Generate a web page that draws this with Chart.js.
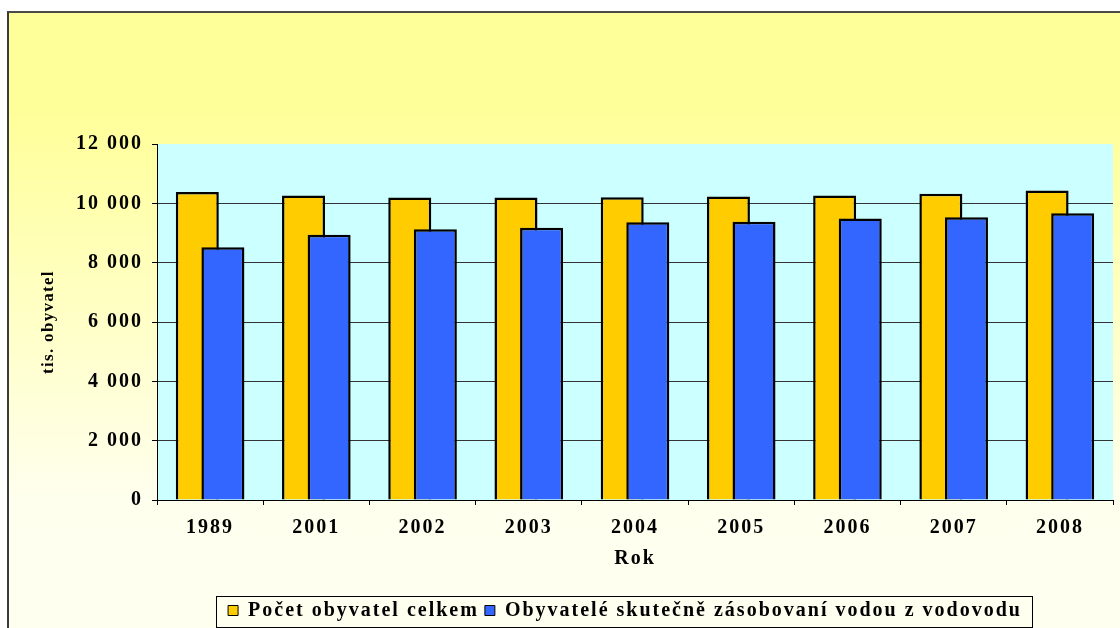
<!DOCTYPE html>
<html>
<head>
<meta charset="utf-8">
<title>Obyvatelé zásobovaní vodou z vodovodu</title>
<script src="https://cdn.jsdelivr.net/npm/chart.js@4.4.0/dist/chart.umd.min.js"></script>
<style>
  html, body { margin: 0; padding: 0; width: 1120px; height: 628px; overflow: hidden; background: #ffffff; }
  #frame {
    position: absolute; left: 7px; top: 11px;
    width: 1232px; height: 640px;
    border-left: 2px solid #3a3a3a; border-top: 2px solid #4a4a4a;
    background: linear-gradient(to bottom, #FFFF99 0%, #FFFF99 15%, #FFFFEE 76%, #FFFFF0 100%);
  }
  #frame canvas { display: block; }
</style>
</head>
<body>
<div id="frame"><canvas id="chart" width="1232" height="640"></canvas></div>
<script>
// Roky a počty obyvatel (tis.)
const years = ['1989', '2001', '2002', '2003', '2004', '2005', '2006', '2007', '2008'];
const populationTotal = [10380, 10260, 10200, 10200, 10205, 10230, 10260, 10320, 10430];
const populationSupplied = [8520, 8945, 9125, 9180, 9360, 9380, 9485, 9530, 9665];
const seriesNames = ['Počet obyvatel celkem', 'Obyvatelé skutečně zásobovaní vodou z vodovodu'];
const yTickStep = 2000;
const yMax = 12000;

const FONT_FAMILY = "'Liberation Serif', 'Times New Roman', serif";
const TEXT_SPACING = '2px';
const Y_TITLE_SPACING = '1.3px';

// thousands separated by a space: 12 000
function formatThousands(v) {
  return String(v).replace(/\B(?=(\d{3})+(?!\d))/g, ' ');
}

// light cyan plot area
const plotBackground = {
  id: 'plotBackground',
  beforeDraw(chart) {
    const { ctx, chartArea: a } = chart;
    ctx.save();
    ctx.fillStyle = '#CCFFFF';
    ctx.fillRect(a.left, a.top, a.right - a.left, a.bottom - a.top);
    ctx.restore();
  }
};

// wide letter spacing of the chart texts (the y-axis title a little tighter)
const textSpacing = {
  id: 'textSpacing',
  beforeLayout(chart) { chart.ctx.letterSpacing = TEXT_SPACING; },
  afterLayout(chart) {
    const y = chart.scales.y;
    if (y && !y._titleSpacingWrapped) {
      const drawTitle = y.drawTitle;
      y.drawTitle = function () {
        const prev = this.ctx.letterSpacing;
        this.ctx.letterSpacing = Y_TITLE_SPACING;
        drawTitle.call(this);
        this.ctx.letterSpacing = prev;
      };
      y._titleSpacingWrapped = true;
    }
  },
  beforeDraw(chart) { chart.ctx.letterSpacing = TEXT_SPACING; }
};

// second series is drawn over the first one
const forwardDrawOrder = {
  id: 'forwardDrawOrder',
  beforeDatasetsDraw(chart) {
    chart.getSortedVisibleDatasetMetas().forEach(meta => meta.controller.draw());
    return false;
  }
};

// framed legend
const legendFrame = {
  id: 'legendFrame',
  afterDraw(chart) {
    const boxes = chart.legend && chart.legend.legendHitBoxes;
    if (!boxes || !boxes.length) return;
    const first = boxes[0], last = boxes[boxes.length - 1];
    const cy = first.top + first.height / 2;
    const left = Math.round(first.left - 12) + 0.5;
    const right = Math.round(last.left + last.width + 10) + 0.5;
    const top = Math.round(cy - 15) + 0.5;
    const ctx = chart.ctx;
    ctx.save();
    ctx.strokeStyle = '#000';
    ctx.lineWidth = 1;
    ctx.strokeRect(left, top, right - left, 31);
    ctx.restore();
  }
};

new Chart(document.getElementById('chart'), {
  type: 'bar',
  data: {
    labels: years,
    datasets: [
      {
        label: seriesNames[0],
        data: populationTotal,
        backgroundColor: '#FFCC00',
        borderColor: '#000000',
        borderWidth: 2.5
      },
      {
        label: seriesNames[1],
        data: populationSupplied,
        backgroundColor: '#3366FF',
        borderColor: '#000000',
        borderWidth: 2.5
      }
    ]
  },
  options: {
    responsive: false,
    animation: false,
    categoryPercentage: 0.482,
    barPercentage: 1.68,
    layout: { padding: { left: 0, right: 0, top: 131, bottom: 22.5 } },
    scales: {
      x: {
        afterFit(scale) { scale.height = 94.5; },
        grid: { drawOnChartArea: false, tickLength: 5, color: '#000', tickColor: '#000' },
        border: { color: '#000', width: 1 },
        ticks: { color: '#000', padding: 10.5, font: { family: FONT_FAMILY, size: 20, weight: 'bold' } },
        title: {
          display: true, text: 'Rok', color: '#000',
          font: { family: FONT_FAMILY, size: 20, weight: 'bold' },
          padding: { top: 0, bottom: 24 }
        }
      },
      y: {
        min: 0, max: yMax,
        afterFit(scale) { scale.width = 148; },
        grid: {
          tickLength: 5,
          color: (c) => (c.tick && c.tick.value === yMax ? 'rgba(0,0,0,0)' : '#333333'),
          tickColor: '#000'
        },
        border: { color: '#000', width: 1 },
        ticks: {
          stepSize: yTickStep, color: '#000', padding: 9,
          font: { family: FONT_FAMILY, size: 20, weight: 'bold' },
          callback: (v) => formatThousands(v)
        },
        title: {
          display: true, text: 'tis. obyvatel', color: '#000',
          font: { family: FONT_FAMILY, size: 17, weight: 'bold' },
          padding: { top: 29, bottom: 0 }
        }
      },
      // empty band on the right, the legend stays centred on the whole canvas
      rightMargin: {
        position: 'right',
        afterFit(scale) { scale.width = 128; },
        grid: { display: false },
        border: { display: false },
        ticks: { display: false }
      }
    },
    plugins: {
      tooltip: { enabled: false },
      legend: {
        position: 'bottom',
        labels: {
          color: '#000',
          boxWidth: 10, boxHeight: 10, padding: 6,
          font: { family: FONT_FAMILY, size: 20, weight: 'bold' },
          generateLabels(chart) {
            const items = Chart.defaults.plugins.legend.labels.generateLabels(chart);
            items.forEach(it => { it.lineWidth = 1; });
            return items;
          }
        }
      }
    }
  },
  plugins: [plotBackground, textSpacing, forwardDrawOrder, legendFrame]
});
</script>
</body>
</html>
